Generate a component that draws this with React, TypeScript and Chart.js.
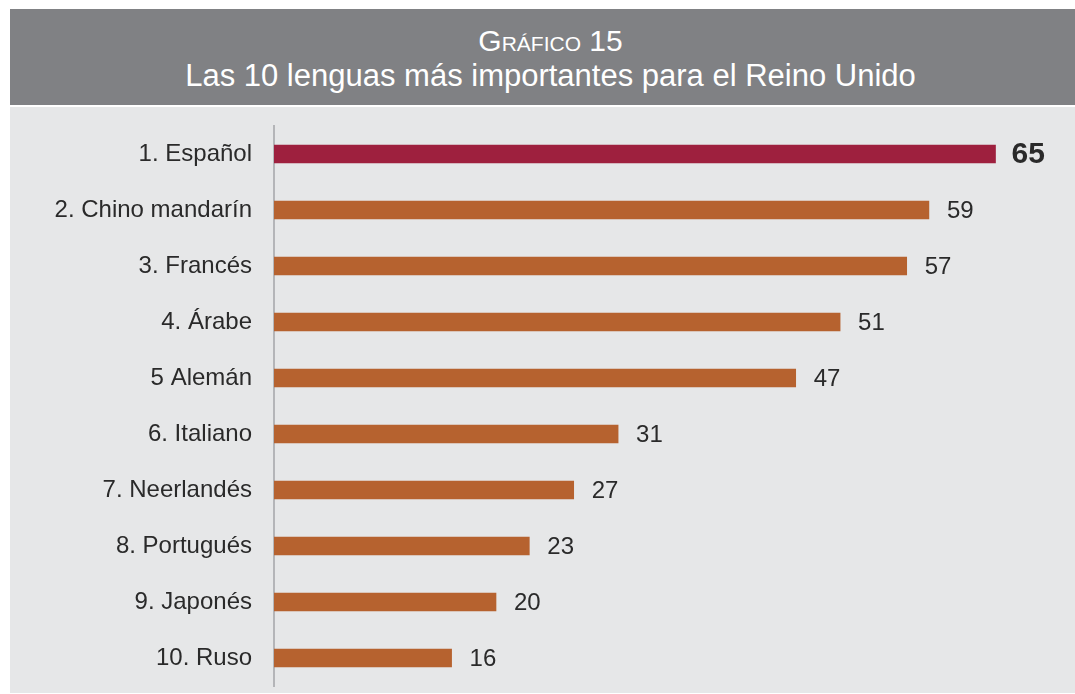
import React, { useEffect, useRef } from "react";
import { Chart, registerables } from "chart.js";

Chart.register(...registerables);

const categories = [
  "1. Español",
  "2. Chino mandarín",
  "3. Francés",
  "4. Árabe",
  "5 Alemán",
  "6. Italiano",
  "7. Neerlandés",
  "8. Portugués",
  "9. Japonés",
  "10. Ruso",
];
const values = [65, 59, 57, 51, 47, 31, 27, 23, 20, 16];
const highlightIndex = 0;
const titleTop = "Gráfico 15";
const titleMain = "Las 10 lenguas más importantes para el Reino Unido";

const FONT = '"Liberation Sans", Arial, Helvetica, sans-serif';
const HIGHLIGHT = "#9e203e";
const BAR = "#b6622f";
const TEXT = "#2a2a2a";

const valueLabels = {
  id: "valueLabels",
  afterDatasetsDraw(chart: any) {
    const ctx = chart.ctx;
    const meta = chart.getDatasetMeta(0);
    meta.data.forEach((bar: any, i: number) => {
      const bold = i === highlightIndex;
      ctx.save();
      ctx.font = bold ? `bold 30px ${FONT}` : `24px ${FONT}`;
      ctx.fillStyle = TEXT;
      ctx.textAlign = "left";
      ctx.textBaseline = "middle";
      ctx.fillText(String(values[i]), bar.x + (bold ? 16 : 18), bar.y + 1);
      ctx.restore();
    });
  },
};

export default function App() {
  const canvasRef = useRef<HTMLCanvasElement | null>(null);

  useEffect(() => {
    if (!canvasRef.current) return;
    const chart = new Chart(canvasRef.current, {
      type: "bar",
      data: {
        labels: categories,
        datasets: [
          {
            data: values,
            backgroundColor: values.map((_, i) => (i === highlightIndex ? HIGHLIGHT : BAR)),
            borderWidth: 0,
            barThickness: 18,
          },
        ],
      },
      options: {
        indexAxis: "y",
        animation: false,
        responsive: false,
        maintainAspectRatio: false,
        layout: { padding: { top: 19, bottom: 7, right: 24, left: 0 } },
        plugins: {
          legend: { display: false },
          tooltip: { enabled: false },
          title: { display: false },
        },
        scales: {
          x: {
            display: false,
            min: 0,
            max: 70,
            grid: { display: false },
          },
          y: {
            grid: { display: false, drawTicks: false },
            border: { display: true, color: "#b4b5b8", width: 2 },
            ticks: {
              color: TEXT,
              padding: 22,
              font: { family: FONT, size: 24 },
            },
            afterFit: (scale: any) => {
              scale.width = 264;
              scale.paddingTop = 0;
              scale.paddingBottom = 0;
            },
          },
        },
      },
      plugins: [valueLabels],
    });
    return () => chart.destroy();
  }, []);

  return (
    <div style={{ position: "absolute", left: 10, top: 9, width: 1065 }}>
      <div
        style={{
          height: 96,
          background: "#808184",
          color: "#ffffff",
          fontFamily: FONT,
          position: "relative",
        }}
      >
        <div
          style={{
            position: "absolute",
            left: 16,
            right: 0,
            top: 15,
            textAlign: "center",
            fontSize: 30,
            fontVariant: "small-caps",
            lineHeight: "34px",
          }}
        >
          {titleTop}
        </div>
        <div
          style={{
            position: "absolute",
            left: 16,
            right: 0,
            top: 49,
            textAlign: "center",
            fontSize: 31,
            lineHeight: "36px",
          }}
        >
          {titleMain}
        </div>
      </div>
      <div style={{ height: 2, background: "#ffffff" }} />
      <div style={{ height: 586, background: "#e6e7e8" }}>
        <canvas ref={canvasRef} width={1065} height={586} />
      </div>
    </div>
  );
}
